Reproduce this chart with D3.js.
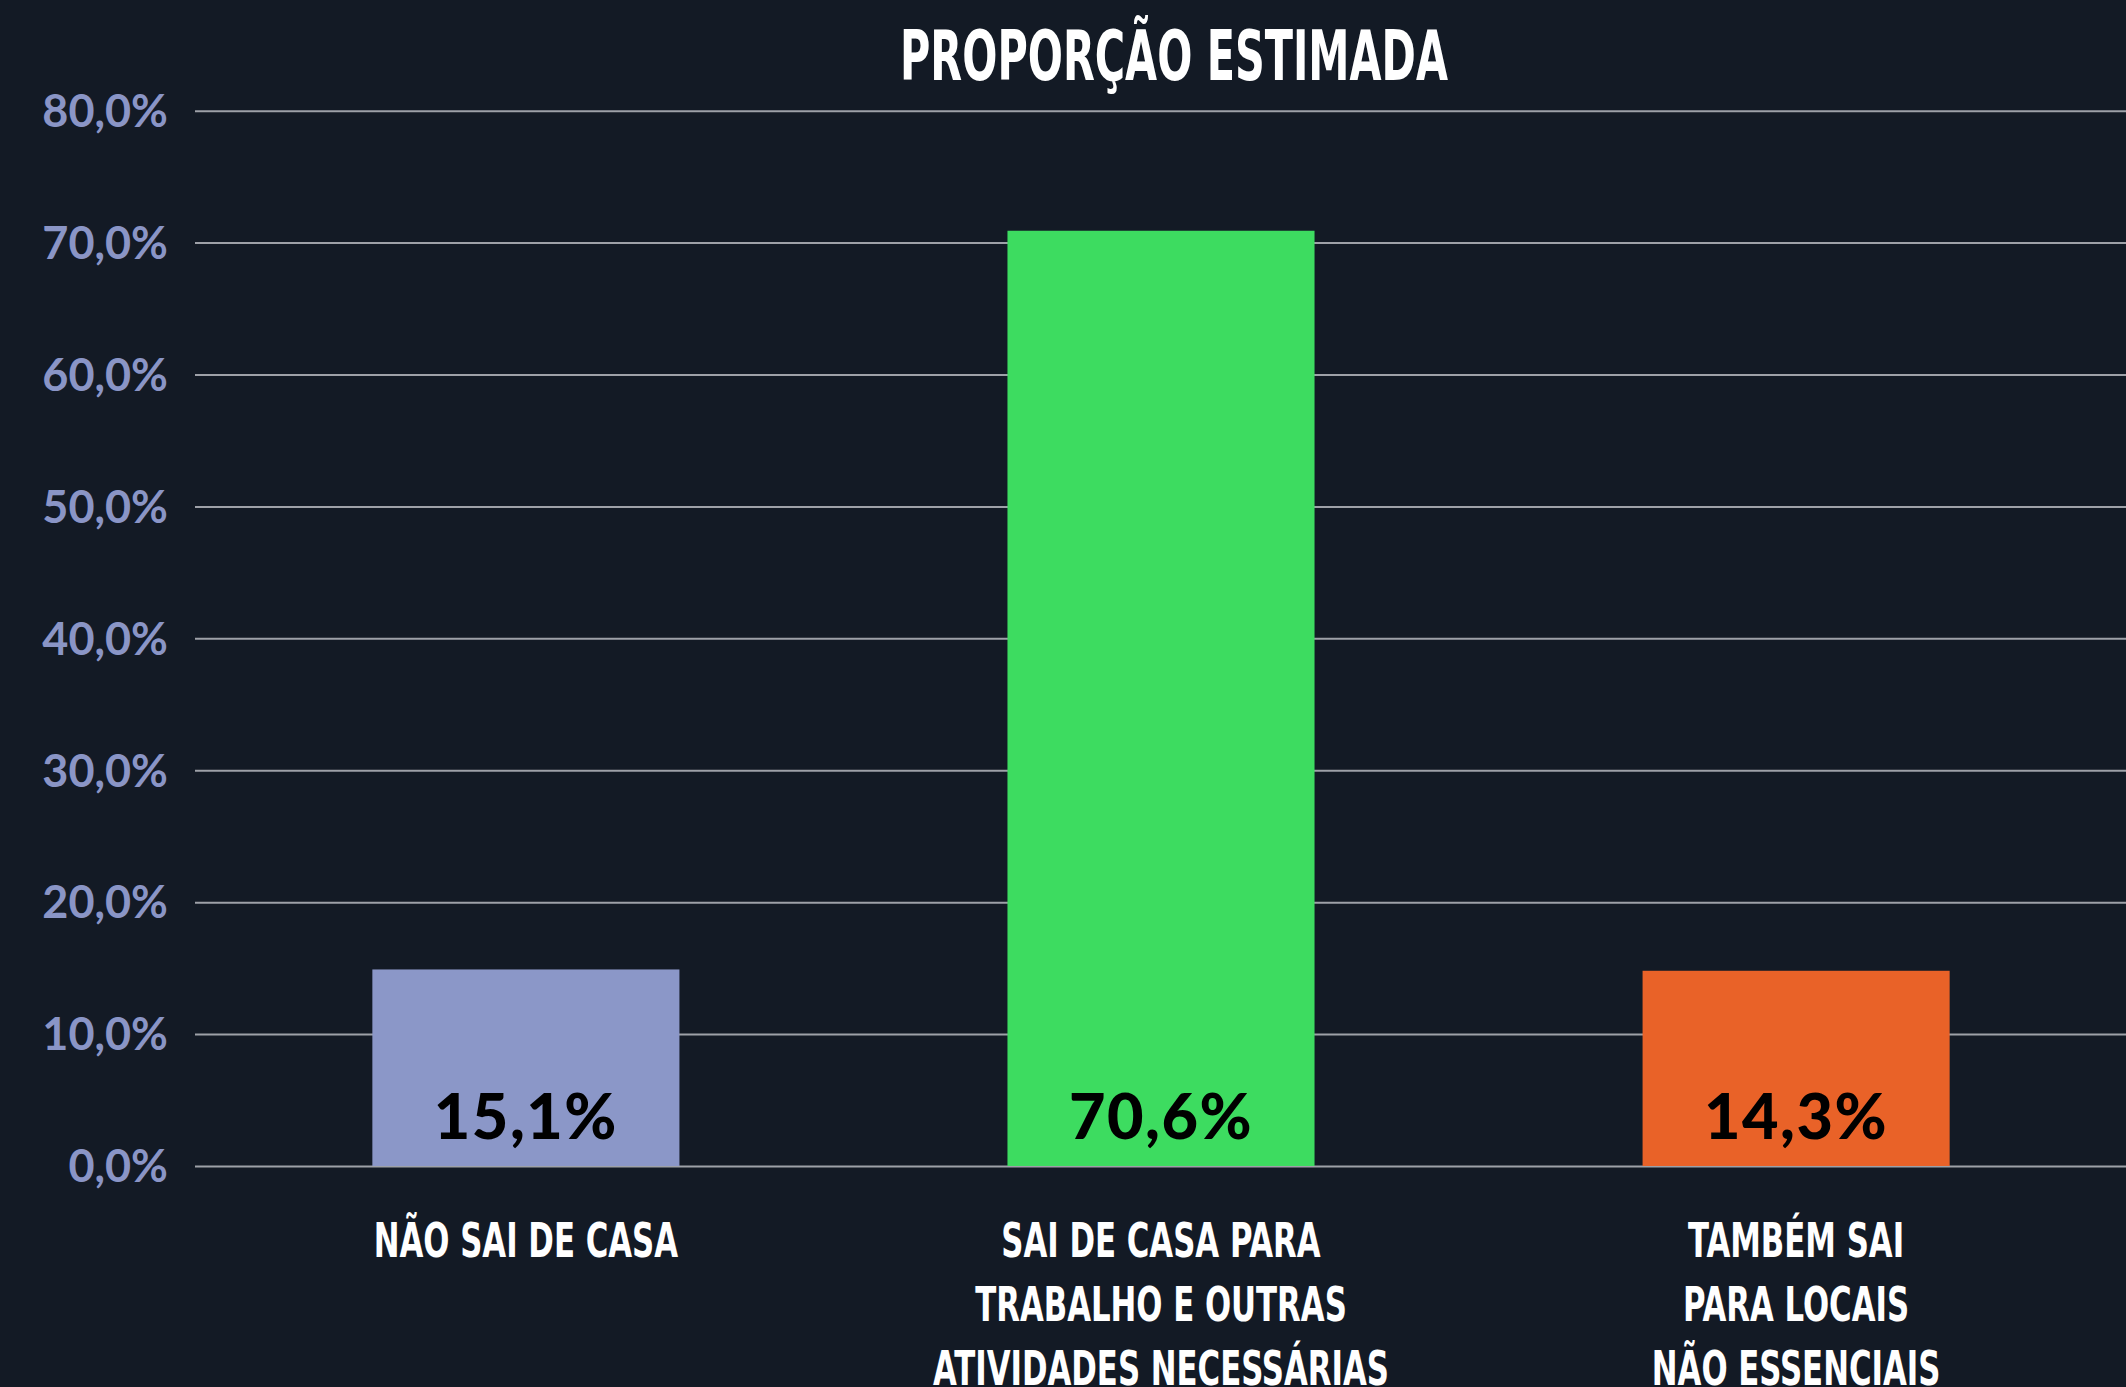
<!DOCTYPE html>
<html>
<head>
<meta charset="utf-8">
<script src="https://cdn.jsdelivr.net/npm/d3@7"></script>
<style>
  html, body { margin: 0; padding: 0; background: #131a25; }
  svg { display: block; }
</style>
</head>
<body>
<svg id="chart" width="2126" height="1387"></svg>
<script>
// ---- data ----
const title = "PROPORÇÃO ESTIMADA";
const categories = [
  ["NÃO SAI DE CASA"],
  ["SAI DE CASA PARA", "TRABALHO E OUTRAS", "ATIVIDADES NECESSÁRIAS"],
  ["TAMBÉM SAI", "PARA LOCAIS", "NÃO ESSENCIAIS"]
];
// bar heights as drawn in the picture
const values = [14.9, 70.9, 14.8];
// value labels as printed in the picture
const valueLabels = ["15,1%", "70,6%", "14,3%"];
const barColors = ["#8b97c8", "#3ddc60", "#e96228"];
const yTicks = [0, 10, 20, 30, 40, 50, 60, 70, 80];

// ---- layout ----
const W = 2126, H = 1387;
const svg = d3.select("#chart");
svg.append("rect").attr("width", W).attr("height", H).attr("fill", "#131a25");

const y = d3.scaleLinear().domain([0, 80]).range([1166, 110.7]);
const x = d3.scaleBand()
  .domain(d3.range(categories.length))
  .range([208.5, 2113.5])
  .paddingInner(0.5165)
  .paddingOuter(0.258);

const fmt = d => d3.format(".1f")(d).replace(".", ",") + "%";

// grid + y labels via axis
const yAxis = d3.axisLeft(y)
  .tickValues(yTicks)
  .tickSize(-(W - 195))
  .tickPadding(27)
  .tickFormat(fmt);

const gAxis = svg.append("g").attr("transform", "translate(195,0)").call(yAxis);
gAxis.select(".domain").remove();
gAxis.selectAll(".tick line")
  .attr("stroke", "#9ea1a8")
  .attr("stroke-width", 2);
gAxis.selectAll(".tick text")
  .attr("fill", "#8a95c6")
  .attr("font-family", "Lato, 'Open Sans', sans-serif")
  .attr("font-weight", 700)
  .attr("font-size", 45)
  .attr("dy", "0.35em");

// bars
svg.append("g").selectAll("rect")
  .data(values)
  .join("rect")
  .attr("x", (d, i) => x(i))
  .attr("width", x.bandwidth())
  .attr("y", d => y(d))
  .attr("height", d => y(0) - y(d))
  .attr("fill", (d, i) => barColors[i]);

// value labels
svg.append("g").selectAll("text")
  .data(valueLabels)
  .join("text")
  .attr("x", (d, i) => x(i) + x.bandwidth() / 2)
  .attr("y", 1139)
  .attr("text-anchor", "middle")
  .attr("font-family", "Lato, 'Open Sans', sans-serif")
  .attr("font-weight", 900)
  .attr("font-size", 63)
  .attr("letter-spacing", 1.5)
  .attr("fill", "#000")
  .text(d => d);

// condensed font helper: uniform horizontal squeeze
const condFont = "'Liberation Sans Narrow', 'DejaVu Sans Condensed', 'Liberation Sans', sans-serif";

// title
const tTitle = svg.append("text")
  .attr("text-anchor", "middle")
  .attr("font-family", condFont)
  .attr("font-weight", 700)
  .attr("font-size", 70)
  .attr("fill", "#ffffff")
  .text(title);
const titleW = tTitle.node().getComputedTextLength();
tTitle.attr("transform", `translate(1174,80) scale(${548 / titleW},1)`);

// category labels
const catG = svg.append("g");
const probe = catG.append("text")
  .attr("font-family", condFont).attr("font-weight", 700).attr("font-size", 48)
  .text("ATIVIDADES NECESSÁRIAS");
const catScale = 456 / probe.node().getComputedTextLength();
probe.remove();

categories.forEach((lines, i) => {
  const cx = x(i) + x.bandwidth() / 2;
  lines.forEach((ln, j) => {
    catG.append("text")
      .attr("text-anchor", "middle")
      .attr("font-family", condFont)
      .attr("font-weight", 700)
      .attr("font-size", 48)
      .attr("fill", "#ffffff")
      .attr("transform", `translate(${cx},${1257 + j * 64}) scale(${catScale},1)`)
      .text(ln);
  });
});
</script>
</body>
</html>
